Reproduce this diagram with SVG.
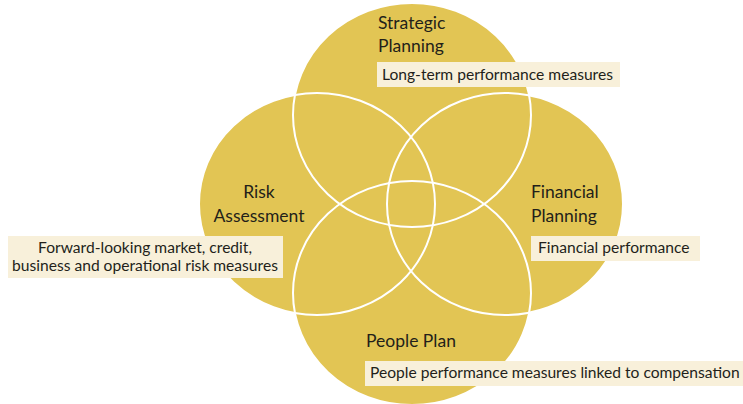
<svg xmlns="http://www.w3.org/2000/svg" xmlns:xlink="http://www.w3.org/1999/xlink" width="743" height="404" viewBox="0 0 743 404">
  <style>
    .disc { fill: #E2C554; }
    .ring { fill: none; stroke: #FFFFFF; stroke-width: 2; }
    .title { font-family: Lato, "Open Sans", sans-serif; font-size: 17.5px; fill: #231F1A; }
    .box { fill: #F8F0DA; }
    .note { font-family: Lato, "Open Sans", sans-serif; font-size: 15.6px; fill: #231F1A; }
  </style>
  <defs>
    <ellipse id="shape-top" cx="412" cy="115" rx="119" ry="112"/>
    <ellipse id="shape-left" cx="317" cy="204" rx="118" ry="111"/>
    <ellipse id="shape-right" cx="505" cy="204" rx="118" ry="111"/>
    <ellipse id="shape-bottom" cx="412" cy="293" rx="119" ry="112"/>
  </defs>

  <rect width="743" height="404" fill="#FFFFFF"/>

  <!-- filled discs -->
  <g id="strategic-planning">
    <use xlink:href="#shape-top" class="disc"/>
    <text class="title" x="378" y="29">Strategic</text>
    <text class="title" x="378" y="52">Planning</text>
  </g>
  <g id="risk-assessment">
    <use xlink:href="#shape-left" class="disc"/>
    <text class="title" x="259" y="198" text-anchor="middle">Risk</text>
    <text class="title" x="259" y="222" text-anchor="middle">Assessment</text>
  </g>
  <g id="financial-planning">
    <use xlink:href="#shape-right" class="disc"/>
    <text class="title" x="531" y="198">Financial</text>
    <text class="title" x="531" y="222">Planning</text>
  </g>
  <g id="people-plan">
    <use xlink:href="#shape-bottom" class="disc"/>
    <text class="title" x="366" y="347">People Plan</text>
  </g>

  <!-- white outlines drawn over all discs -->
  <g id="connectors">
    <use xlink:href="#shape-top" class="ring"/>
    <use xlink:href="#shape-left" class="ring"/>
    <use xlink:href="#shape-right" class="ring"/>
    <use xlink:href="#shape-bottom" class="ring"/>
  </g>

  <!-- measure labels -->
  <g id="strategic-planning-measures">
    <rect class="box" x="377" y="62" width="243" height="25"/>
    <text class="note" x="382" y="80">Long-term performance measures</text>
  </g>
  <g id="risk-assessment-measures">
    <rect class="box" x="8" y="236" width="275" height="42"/>
    <text class="note" x="145" y="253" text-anchor="middle">Forward-looking market, credit,</text>
    <text class="note" x="145" y="271" text-anchor="middle">business and operational risk measures</text>
  </g>
  <g id="financial-planning-measures">
    <rect class="box" x="531" y="236" width="169" height="25"/>
    <text class="note" x="538" y="253">Financial performance</text>
  </g>
  <g id="people-plan-measures">
    <rect class="box" x="365" y="361" width="378" height="25"/>
    <text class="note" x="370" y="378">People performance measures linked to compensation</text>
  </g>
</svg>
